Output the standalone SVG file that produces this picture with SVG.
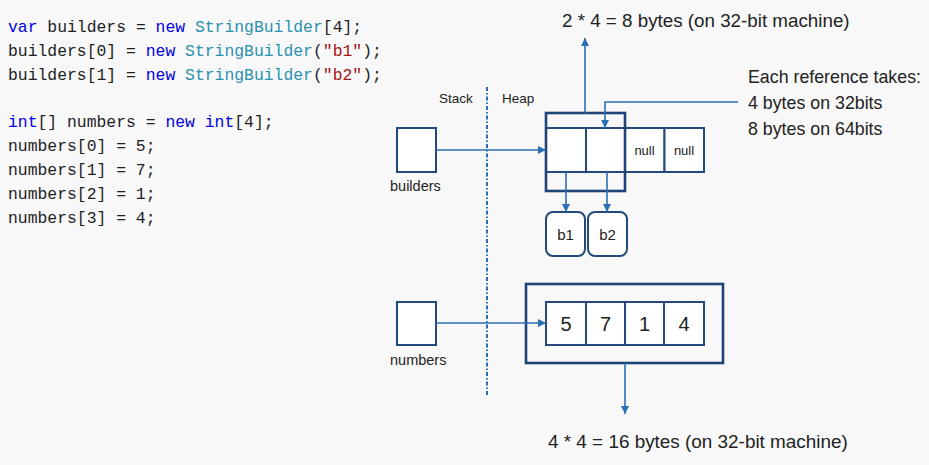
<svg xmlns="http://www.w3.org/2000/svg" width="929" height="465" viewBox="0 0 929 465">
<defs>
<marker id="ah" viewBox="0 0 8 8" refX="8" refY="4" markerWidth="8" markerHeight="8" markerUnits="userSpaceOnUse" orient="auto">
<path d="M0,0 L8,4 L0,8 Z" fill="#2a6fb5"/>
</marker>
<style>
.code{font-family:"Liberation Mono","DejaVu Sans Mono",monospace;font-size:16.4px;fill:#1e1e1e}
.kw{fill:#0000e0}
.ty{fill:#2b91af}
.st{fill:#a31515}
.lbl{font-family:"Liberation Sans",Arial,sans-serif;fill:#222}
.cell{fill:#fff;stroke:#24497c;stroke-width:2}
.frame{fill:none;stroke:#1f4478;stroke-width:2.6}
.sbox{fill:#fff;stroke:#24497c;stroke-width:2}
.conn{fill:none;stroke:#2a6fb5;stroke-width:1.6}
</style>
</defs>
<rect width="929" height="465" fill="#f8f8f8"/>

<g id="code" class="code">
<text x="8" y="31.5"><tspan class="kw">var</tspan> builders = <tspan class="kw">new</tspan> <tspan class="ty">StringBuilder</tspan>[4];</text>
<text x="8" y="55.5">builders[0] = <tspan class="kw">new</tspan> <tspan class="ty">StringBuilder</tspan>(<tspan class="st">"b1"</tspan>);</text>
<text x="8" y="79.5">builders[1] = <tspan class="kw">new</tspan> <tspan class="ty">StringBuilder</tspan>(<tspan class="st">"b2"</tspan>);</text>
<text x="8" y="127"><tspan class="kw">int</tspan>[] numbers = <tspan class="kw">new</tspan> <tspan class="kw">int</tspan>[4];</text>
<text x="8" y="151">numbers[0] = 5;</text>
<text x="8" y="175">numbers[1] = 7;</text>
<text x="8" y="199">numbers[2] = 1;</text>
<text x="8" y="223">numbers[3] = 4;</text>
</g>

<g id="divider">
<line x1="487" y1="87" x2="487" y2="396" stroke="#2a6fb5" stroke-width="2" stroke-dasharray="4 2 1.5 2"/>
<text class="lbl" x="439" y="103" font-size="13.5">Stack</text>
<text class="lbl" x="502" y="103" font-size="13.5">Heap</text>
</g>

<g id="stack-builders">
<rect class="sbox" x="397" y="128" width="39" height="44"/>
<text class="lbl" x="390" y="191" font-size="14.5">builders</text>
</g>

<g id="stack-numbers">
<rect class="sbox" x="397" y="302" width="39" height="43"/>
<text class="lbl" x="390" y="365" font-size="14.5">numbers</text>
</g>

<g id="builders-array">
<rect class="cell" x="546" y="128" width="40" height="44"/>
<rect class="cell" x="586" y="128" width="39" height="44"/>
<rect class="cell" x="625" y="128" width="39.5" height="44"/>
<rect class="cell" x="664.5" y="128" width="39.5" height="44"/>
<text class="lbl" x="644.5" y="155" font-size="13" text-anchor="middle">null</text>
<text class="lbl" x="684" y="155" font-size="13" text-anchor="middle">null</text>
<rect class="frame" x="546" y="113" width="79" height="78"/>
</g>

<g id="b1">
<rect class="sbox" x="546" y="212" width="39" height="44" rx="7"/>
<text class="lbl" x="565.5" y="240" font-size="15" text-anchor="middle">b1</text>
</g>
<g id="b2">
<rect class="sbox" x="588" y="212" width="39" height="44" rx="7"/>
<text class="lbl" x="607.5" y="240" font-size="15" text-anchor="middle">b2</text>
</g>

<g id="numbers-array">
<rect class="frame" x="526" y="284" width="197" height="79"/>
<rect class="cell" x="546" y="302" width="40" height="43"/>
<rect class="cell" x="586" y="302" width="39" height="43"/>
<rect class="cell" x="625" y="302" width="39" height="43"/>
<rect class="cell" x="664" y="302" width="40" height="43"/>
<text class="lbl" x="566" y="331" font-size="20" text-anchor="middle">5</text>
<text class="lbl" x="605.5" y="331" font-size="20" text-anchor="middle">7</text>
<text class="lbl" x="644.5" y="331" font-size="20" text-anchor="middle">1</text>
<text class="lbl" x="684" y="331" font-size="20" text-anchor="middle">4</text>
</g>

<g id="notes">
<text class="lbl" x="562" y="27" font-size="18.8">2 * 4 = 8 bytes (on 32-bit machine)</text>
<text class="lbl" x="748" y="83" font-size="17.8">Each reference takes:</text>
<text class="lbl" x="748" y="109" font-size="17.8">4 bytes on 32bits</text>
<text class="lbl" x="748" y="135" font-size="17.8">8 bytes on 64bits</text>
<text class="lbl" x="548" y="448" font-size="18.9">4 * 4 = 16 bytes (on 32-bit machine)</text>
</g>

<g id="connectors">
<line class="conn" x1="436" y1="150" x2="546" y2="150" marker-end="url(#ah)"/>
<line class="conn" x1="436" y1="323" x2="546" y2="323" marker-end="url(#ah)"/>
<line class="conn" x1="585" y1="113" x2="585" y2="38" marker-end="url(#ah)"/>
<polyline class="conn" points="738,102 605,102 605,128" marker-end="url(#ah)"/>
<line class="conn" x1="566" y1="172" x2="566" y2="212" marker-end="url(#ah)"/>
<line class="conn" x1="607" y1="172" x2="607" y2="212" marker-end="url(#ah)"/>
<line class="conn" x1="625" y1="363" x2="625" y2="414" marker-end="url(#ah)"/>
</g>
</svg>
